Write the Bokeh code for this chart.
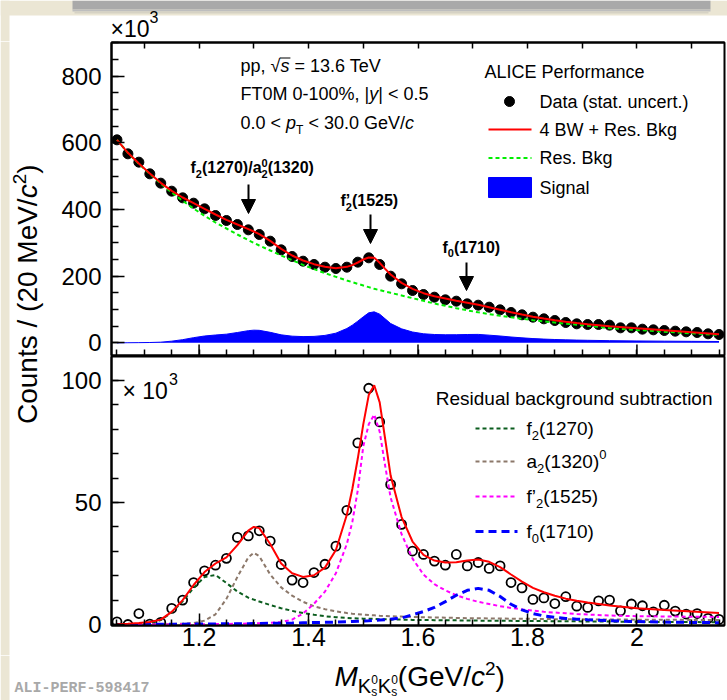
import math
from bokeh.plotting import figure
from bokeh.models import Range1d, LinearAxis, FixedTicker, Label, Arrow, NormalHead
from bokeh.layouts import column, row
from bokeh.embed import file_html
from bokeh.resources import INLINE

FONT = "Liberation Sans"

# ---------------- data ----------------
mass_bins = [1.05, 1.07, 1.09, 1.11, 1.13, 1.15, 1.17, 1.19, 1.21, 1.23,
             1.25, 1.27, 1.29, 1.31, 1.33, 1.35, 1.37, 1.39, 1.41, 1.43,
             1.45, 1.47, 1.49, 1.51, 1.53, 1.55, 1.57, 1.59, 1.61, 1.63,
             1.65, 1.67, 1.69, 1.71, 1.73, 1.75, 1.77, 1.79, 1.81, 1.83,
             1.85, 1.87, 1.89, 1.91, 1.93, 1.95, 1.97, 1.99, 2.01, 2.03,
             2.05, 2.07, 2.09, 2.11, 2.13, 2.15]
counts_data = [609, 567, 542, 507, 479, 455, 435, 419, 402, 382,
               367, 355, 339, 325, 305, 279, 259, 245, 235, 227,
               223, 227, 242, 255, 235, 200, 177, 157, 145, 137,
               129, 125, 117, 113, 107, 99, 91, 84, 77, 72,
               67, 61, 57, 55, 55, 53, 45, 45, 41, 39,
               37, 35, 33, 31, 27, 25]
residual_data = [1.1, 0.0, 4.5, 0.2, 0.9, 6.6, 10.0, 17.2, 22.0, 24.3,
                 27.1, 35.7, 36.3, 38.4, 34.2, 24.6, 18.2, 17.2, 21.3, 24.7,
                 32.1, 46.8, 74.4, 96.8, 83.0, 57.4, 41.0, 30.1, 28.7, 26.0,
                 24.3, 28.7, 24.0, 25.4, 23.0, 24.0, 17.2, 15.0, 10.3, 10.9,
                 8.6, 11.4, 7.5, 7.0, 9.7, 10.0, 5.6, 8.4, 7.7, 5.2,
                 7.9, 5.5, 4.3, 4.5, 2.5, 2.1]

curve_mass = [1.05, 1.07, 1.09, 1.11, 1.13, 1.15, 1.17, 1.19, 1.21, 1.23, 1.25, 1.27, 1.29,
              1.30,
              1.31, 1.33, 1.35, 1.37, 1.39, 1.41, 1.43, 1.45, 1.47,
              1.48, 1.49, 1.50, 1.51, 1.52, 1.53, 1.54, 1.55,
              1.57, 1.59, 1.61, 1.63, 1.65, 1.67, 1.69, 1.71, 1.73, 1.75, 1.77, 1.79, 1.81, 1.83,
              1.85, 1.87, 1.89, 1.91,
              1.95, 2.00, 2.05, 2.10, 2.15]
fit_total_top = [609, 570, 538, 508, 480, 456, 436, 419, 402, 385, 369, 355, 341,
                 334,
                 326, 306, 282, 262, 247, 236, 228, 224, 228,
                 233, 241, 250, 256, 255, 240, 222, 205,
                 180, 162, 149, 140, 133, 126, 120, 114, 107, 99.5, 92, 85, 78.5, 73,
                 68, 63.5, 59.5, 56,
                 50, 43.5, 37.5, 32, 26]
res_bkg_top = [609, 570, 537, 507, 478, 451, 426, 403, 381, 361, 343, 325, 308,
               300,
               292, 277, 262, 248, 234, 221, 209, 198, 187,
               182, 177, 172, 167, 162, 158, 154, 150,
               142, 134, 126, 118, 111, 104, 97.5, 91.5, 86, 81, 76.5, 72, 68, 64.5,
               61, 57.5, 54.5, 51.5,
               44, 38.5, 33.5, 28.5, 23.5]
signal_top = [0.0, 0.3, 0.6, 1.0, 2.0, 5.0, 9.5, 15.5, 20.5, 23.5, 26.0, 31.0, 36.5,
              38.0,
              37.5, 31.5, 24.0, 20.0, 18.7, 19.3, 22.3, 29.0, 43.0,
              53.0, 65.0, 78.0, 90.0, 93.0, 86.0, 72.0, 58.0,
              42.0, 32.5, 27.2, 25.0, 24.2, 24.3, 25.0, 25.3, 23.0, 20.5, 17.5, 15.0, 12.8, 11.2,
              10.0, 9.0, 8.2, 7.6,
              6.5, 5.6, 5.0, 4.5, 4.0]
fit_total_bot = [0.1, 0.3, 0.6, 1.0, 2.0, 5.2, 10.0, 16.2, 21.5, 25.0, 27.5, 32.5, 38.5,
                 40.0,
                 39.5, 33.0, 25.0, 21.0, 19.5, 20.2, 23.3, 30.5, 45.0,
                 55.5, 68.0, 82.0, 94.0, 98.0, 91.0, 76.0, 61.0,
                 44.0, 34.0, 28.5, 26.2, 25.4, 25.5, 26.2, 26.6, 25.7, 23.5, 20.5, 17.6, 15.0, 13.2,
                 11.8, 10.6, 9.7, 9.0,
                 7.8, 6.7, 5.9, 5.3, 4.7]
bw_f2_1270 = [0.0, 0.0, 0.1, 0.5, 1.8, 5.0, 9.5, 15.0, 19.5, 20.3, 17.0, 13.5, 11.0,
              10.2,
              9.4, 8.0, 6.7, 5.6, 4.7, 4.0, 3.4, 3.0, 2.7,
              2.6, 2.5, 2.4, 2.35, 2.3, 2.2, 2.15, 2.1,
              2.0, 1.9, 1.85, 1.8, 1.75, 1.7, 1.65, 1.6, 1.55, 1.5, 1.5, 1.45, 1.4, 1.4,
              1.35, 1.3, 1.3, 1.25,
              1.2, 1.1, 1.05, 1.0, 0.95]
bw_a2_1320 = [0.0, 0.0, 0.0, 0.05, 0.1, 0.2, 0.35, 0.6, 1.6, 4.2, 10.5, 19.5, 27.5,
              29.4,
              28.0, 20.5, 15.2, 11.8, 9.3, 7.5, 6.3, 5.4, 4.7,
              4.45, 4.25, 4.05, 3.9, 3.75, 3.6, 3.5, 3.4,
              3.25, 3.1, 3.0, 2.9, 2.8, 2.7, 2.6, 2.55, 2.5, 2.45, 2.4, 2.35, 2.3, 2.25,
              2.2, 2.2, 2.15, 2.1,
              2.05, 2.0, 1.95, 1.9, 1.85]
bw_f2p_1525 = [0.0, 0.0, 0.0, 0.0, 0.05, 0.05, 0.1, 0.1, 0.15, 0.2, 0.25, 0.3, 0.4,
               0.45,
               0.5, 0.7, 1.0, 2.0, 4.5, 8.5, 13.5, 21.0, 33.0,
               42.0, 55.0, 73.0, 82.0, 86.0, 79.0, 65.0, 52.0,
               37.0, 27.0, 20.5, 16.5, 14.0, 12.0, 10.5, 9.3, 8.4, 7.5, 6.8, 6.2, 5.7, 5.2,
               4.9, 4.6, 4.3, 4.1,
               3.7, 3.4, 3.3, 3.2, 3.1]
bw_f0_1710 = [0.0, 0.0, 0.05, 0.1, 0.1, 0.15, 0.15, 0.2, 0.2, 0.25, 0.3, 0.3, 0.35,
              0.4,
              0.4, 0.5, 0.55, 0.6, 0.7, 0.8, 0.9, 1.0, 1.15,
              1.25, 1.35, 1.45, 1.55, 1.7, 1.85, 2.0, 2.2,
              2.7, 4.0, 5.3, 7.0, 9.4, 12.0, 14.0, 14.8, 14.0, 11.5, 8.3, 6.0, 4.5, 3.5,
              2.9, 2.5, 2.2, 1.95,
              1.55, 1.2, 1.0, 0.85, 0.75]

x_major = [1.2, 1.4, 1.6, 1.8, 2.0]
x_major_labels = {1.2: "1.2", 1.4: "1.4", 1.6: "1.6", 1.8: "1.8", 2.0: "2"}
x_minor = [1.05, 1.1, 1.15, 1.2, 1.25, 1.3, 1.35, 1.4, 1.45, 1.5, 1.55, 1.6, 1.65, 1.7,
           1.75, 1.8, 1.85, 1.9, 1.95, 2.0, 2.05, 2.1, 2.15]
x_top_ticks = [1.1, 1.2, 1.3, 1.4, 1.5, 1.6, 1.7, 1.8, 1.9, 2.0, 2.1]
ytop_major = [0, 200, 400, 600, 800]
ytop_minor = [0, 50, 100, 150, 200, 250, 300, 350, 400, 450, 500, 550, 600, 650, 700,
              750, 800, 850, 900]
ybot_major = [0, 50, 100]
ybot_minor = [0, 10, 20, 30, 40, 50, 60, 70, 80, 90, 100, 110]

# ---------------- geometry (page pixels) ----------------
X0, X1 = 1.04, 2.16
FL, FR = 111, 724
TT, TB = 42, 355            # upper panel frame
BT, BB = 356, 625           # lower panel frame
YT0, YT1 = -38, 901
YB0 = -0.4
YB1 = YB0 + (BB - BT) / 2.441
XLAB_TOP = 655
BEIGE = "#ebe6d4"
MID = 0.35  # distance (in em) from the alphabetic baseline up to the text middle


def conv_top(px, py):
    return (X0 + (px - FL) * (X1 - X0) / (FR - FL),
            YT0 + (TB - py) * (YT1 - YT0) / (TB - TT))


def conv_bot(px, py):
    return (X0 + (px - FL) * (X1 - X0) / (FR - FL),
            YB0 + (BB - py) * (YB1 - YB0) / (BB - BT))


def ident(px, py):
    return (px, py)


# ---------------- text helpers ----------------
W_REG = {c: 556 for c in "0123456789"}
W_REG.update({' ': 278, ',': 278, '.': 278, '/': 278, '(': 333, ')': 333, '-': 333,
              '%': 889, '|': 260, '<': 584, '=': 584, '+': 584, '×': 584, '√': 549,
              "'": 191, '’': 222,
              'A': 667, 'B': 667, 'C': 722, 'D': 722, 'E': 667, 'F': 611, 'G': 778,
              'I': 278, 'K': 667, 'L': 556, 'M': 833, 'P': 667, 'R': 722, 'S': 667,
              'T': 611, 'V': 667, 'W': 944,
              'a': 556, 'b': 556, 'c': 500, 'd': 556, 'e': 556, 'f': 278, 'g': 556,
              'i': 222, 'k': 500, 'l': 222, 'm': 833, 'n': 556, 'o': 556, 'p': 556,
              'r': 333, 's': 500, 't': 278, 'u': 556, 'y': 500})
W_BOLD = dict(W_REG)
W_BOLD.update({'f': 333, "'": 238, '’': 278})


def tw(text, size, style="normal"):
    table = W_BOLD if "bold" in style else W_REG
    return sum(table.get(ch, 556) for ch in text) * size / 1000.0


def put(fig, conv, px, py_base, text, size, style="normal", color="black", align="left",
        font=FONT):
    """Place text whose alphabetic baseline is at page pixel py_base (anchored at its middle)."""
    x, y = conv(px, py_base - MID * size)
    fig.add_layout(Label(x=x, y=y, text=text, text_font=font,
                         text_font_size=f"{size}px", text_font_style=style,
                         text_color=color, text_align=align,
                         text_baseline="middle"))


def rich(fig, conv, px, py, pieces, color="black"):
    cx = px
    for pc in pieces:
        group = pc if isinstance(pc, list) else [pc]
        wmax = 0
        for (t, s, rise, st) in group:
            lead = len(t) - len(t.lstrip(' '))
            put(fig, conv, cx + tw(' ' * lead, s, st), py - rise, t.strip(' '), s, st, color)
            wmax = max(wmax, tw(t, s, st))
        cx += wmax
    return cx


def style_axis(ax, major_len, minor_len, label_size="24px", standoff=10):
    ax.axis_line_color = "black"
    ax.axis_line_width = 2
    ax.major_tick_in = major_len
    ax.major_tick_out = 0
    ax.minor_tick_in = minor_len
    ax.minor_tick_out = 0
    ax.major_tick_line_width = 1.5
    ax.minor_tick_line_width = 1.5
    ax.major_tick_line_color = "black"
    ax.minor_tick_line_color = "black"
    ax.major_label_text_font = FONT
    ax.major_label_text_color = "black"
    ax.major_label_text_font_size = label_size
    ax.major_label_standoff = standoff
    return ax


def base_fig(w, h, xr, yr, left, right, top, bottom, outline=True):
    p = figure(width=w, height=h, x_range=xr, y_range=yr,
               output_backend="svg", toolbar_location=None,
               x_axis_location=None, y_axis_location=None,
               min_border_left=left, min_border_right=right,
               min_border_top=top, min_border_bottom=bottom,
               background_fill_color="white", border_fill_color="white")
    p.grid.visible = False
    if outline:
        p.outline_line_color = "black"
        p.outline_line_width = 2
    else:
        p.outline_line_color = None
    return p


# ---------------- top strip (page decoration + x10^3) ----------------
strip = base_fig(727, 41, Range1d(0, 727), Range1d(41, 0), 0, 0, 0, 0, outline=False)
strip.quad(left=[0], right=[727], top=[0], bottom=[15], fill_color=BEIGE, line_color=None)
strip.quad(left=[0], right=[9], top=[0], bottom=[41], fill_color=BEIGE, line_color=None)
strip.quad(left=[72], right=[710], top=[0], bottom=[9], fill_color="#a9a9a9", line_color=None)
strip.quad(left=[72], right=[710], top=[9], bottom=[11], fill_color="#bebebe", line_color=None)
strip.quad(left=[74], right=[708], top=[11], bottom=[13], fill_color="#d6d2c4", line_color=None)
rich(strip, ident, 110, 37, [("×10", 23, 0, "normal")])
rich(strip, ident, 149, 22, [("3", 16, 0, "normal")])

# ---------------- top panel ----------------
top = base_fig(672, BT - 41, Range1d(X0, X1), Range1d(YT0, YT1), 56, 3, TT - 41, BT - TB)
top.add_layout(style_axis(LinearAxis(ticker=FixedTicker(ticks=ytop_major, minor_ticks=ytop_minor)),
                          13, 7), "left")
top.add_layout(style_axis(LinearAxis(ticker=FixedTicker(ticks=[], minor_ticks=x_minor)),
                          6, 6, standoff=0), "below")
top.add_layout(style_axis(LinearAxis(ticker=FixedTicker(ticks=[], minor_ticks=x_top_ticks)),
                          6, 6, standoff=0), "above")
tick_len_top = 11 * (YT1 - YT0) / (TB - TT)
top.segment(x0=x_major, y0=[YT0] * len(x_major), x1=x_major,
            y1=[YT0 + tick_len_top] * len(x_major), line_color="black", line_width=1.5)

top.varea(x=curve_mass, y1=0, y2=signal_top, fill_color="#0000ff")
top.line(curve_mass, signal_top, line_color="#0000ff", line_width=1)
top.scatter(mass_bins, counts_data, size=10, fill_color="black", line_color="black")
top.line(curve_mass, res_bkg_top, line_color="#00ee00", line_width=2, line_dash="4 3")
top.line(curve_mass, fit_total_top, line_color="#ff0000", line_width=2)

# info text
rich(top, conv_top, 240, 71.5, [("pp, ", 18, 0, "normal"), ("√", 18, 0, "normal"),
                                ("s", 18, 0, "italic"), (" = 13.6 TeV", 18, 0, "normal")])
ox0 = 240 + tw("pp, √", 18) - 0.5
ox1 = 240 + tw("pp, √s", 18) + 1
ol_a = conv_top(ox0, 57.5)
ol_b = conv_top(ox1, 57.5)
top.segment(x0=[ol_a[0]], y0=[ol_a[1]], x1=[ol_b[0]], y1=[ol_b[1]], line_color="black", line_width=1.2)
rich(top, conv_top, 240, 99.5, [("FT0M 0-100%, |", 18, 0, "normal"), ("y", 18, 0, "italic"),
                                ("| < 0.5", 18, 0, "normal")])
rich(top, conv_top, 240, 128.5, [("0.0 < ", 18, 0, "normal"), ("p", 18, 0, "italic"),
                                 ("T", 12, -5, "normal"), (" < 30.0 GeV/", 18, 0, "normal"),
                                 ("c", 18, 0, "italic")])

# resonance annotations
B = "bold"
rich(top, conv_top, 190, 173, [("f", 16, 0, B), ("2", 11, -4, B), ("(1270)/a", 16, 0, B),
                               [("0", 11, 7, B), ("2", 11, -4, B)], ("(1320)", 16, 0, B)])
rich(top, conv_top, 340, 206, [("f", 16, 0, B), [("’", 16, 0, B), ("2", 11, -4, B)],
                               ("(1525)", 16, 0, B)])
rich(top, conv_top, 442, 252.5, [("f", 16, 0, B), ("0", 11, -4, B), ("(1710)", 16, 0, B)])
for (ax_px, ay0, ay1) in [(248, 184, 213), (370, 214, 243), (466, 262, 290)]:
    xs, ys = conv_top(ax_px, ay0)
    xe, ye = conv_top(ax_px, ay1)
    top.add_layout(Arrow(end=NormalHead(size=14, fill_color="black", line_color="black", line_width=1),
                         x_start=xs, y_start=ys, x_end=xe, y_end=ye,
                         line_color="black", line_width=2))

# legend (top)
put(top, conv_top, 484, 77.5, "ALICE Performance", 18)
mx, my = conv_top(509, 101)
top.scatter([mx], [my], size=10, fill_color="black", line_color="black")
put(top, conv_top, 539, 107.5, "Data (stat. uncert.)", 18)
la, lb = conv_top(488, 129), conv_top(531, 129)
top.line([la[0], lb[0]], [la[1], lb[1]], line_color="#ff0000", line_width=2)
put(top, conv_top, 539, 135.5, "4 BW + Res. Bkg", 18)
la, lb = conv_top(488, 157.5), conv_top(531, 157.5)
top.line([la[0], lb[0]], [la[1], lb[1]], line_color="#00ee00", line_width=2, line_dash="4 3")
put(top, conv_top, 539, 164, "Res. Bkg", 18)
qa, qb = conv_top(488, 177), conv_top(531, 197)
top.quad(left=[qa[0]], right=[qb[0]], top=[qa[1]], bottom=[qb[1]], fill_color="#0000ff", line_color="#0000ff")
put(top, conv_top, 539, 193.5, "Signal", 18)

# ---------------- bottom panel ----------------
bot = base_fig(672, XLAB_TOP - BT, Range1d(X0, X1), Range1d(YB0, YB1), 56, 3, 0, XLAB_TOP - BB)
bot.add_layout(style_axis(LinearAxis(ticker=FixedTicker(ticks=ybot_major, minor_ticks=ybot_minor)),
                          13, 7), "left")
xax = style_axis(LinearAxis(ticker=FixedTicker(ticks=x_major, minor_ticks=x_minor)), 12, 6,
                 label_size="25px", standoff=2)
xax.major_label_overrides = x_major_labels
bot.add_layout(xax, "below")

bot.scatter(mass_bins, residual_data, size=9, fill_alpha=0, line_color="black", line_width=1.8)
C_F2, C_A2, C_F2P, C_F0 = "#0b5d1e", "#8c786a", "#ff00ff", "#0000ff"
bot.line(curve_mass, bw_f2_1270, line_color=C_F2, line_width=2, line_dash="4 3")
bot.line(curve_mass, bw_a2_1320, line_color=C_A2, line_width=2, line_dash="4 3")
bot.line(curve_mass, bw_f2p_1525, line_color=C_F2P, line_width=2, line_dash="4 3")
bot.line(curve_mass, bw_f0_1710, line_color=C_F0, line_width=3, line_dash="8 5")
bot.line(curve_mass, fit_total_bot, line_color="#ff0000", line_width=2)

rich(bot, conv_bot, 122, 399, [("× 10", 23, 0, "normal")])
rich(bot, conv_bot, 122 + tw("× 10", 23) + 1, 384, [("3", 16, 0, "normal")])

put(bot, conv_bot, 712, 404.5, "Residual background subtraction", 19, align="right")
leg_items = [(C_F2, 2, "4 3", 428, [("f", 19, 0, "normal"), ("2", 13, -5, "normal"), ("(1270)", 19, 0, "normal")]),
             (C_A2, 2, "4 3", 461, [("a", 19, 0, "normal"), ("2", 13, -5, "normal"), ("(1320)", 19, 0, "normal"),
                                     ("0", 13, 9, "normal")]),
             (C_F2P, 2, "4 3", 496, [("f", 19, 0, "normal"), ("’", 19, 0, "normal"), ("2", 13, -5, "normal"),
                                      ("(1525)", 19, 0, "normal")]),
             (C_F0, 3, "8 5", 531, [("f", 19, 0, "normal"), ("0", 13, -5, "normal"), ("(1710)", 19, 0, "normal")])]
for (col, lw, dash, ly, pieces) in leg_items:
    la, lb = conv_bot(475, ly), conv_bot(517, ly)
    bot.line([la[0], lb[0]], [la[1], lb[1]], line_color=col, line_width=lw, line_dash=dash)
    rich(bot, conv_bot, 526, ly + 6.8, pieces)

# ---------------- y-axis title (left column) ----------------
ylab = base_fig(55, XLAB_TOP - 41, Range1d(0, 55), Range1d(XLAB_TOP, 41), 0, 0, 0, 0, outline=False)
ylab.quad(left=[0], right=[9], top=[41], bottom=[XLAB_TOP], fill_color=BEIGE, line_color=None)
cy = 423.5
for (t, s, rise, st) in [("Counts / (20 MeV/", 28, 0, "normal"), ("c", 28, 0, "italic"),
                         ("2", 19, 11, "normal"), (")", 28, 0, "normal")]:
    ylab.add_layout(Label(x=36.5 - rise - MID * s, y=cy, text=t, text_font=FONT,
                          text_font_size=f"{s}px", text_font_style=st, text_color="black",
                          text_align="left", text_baseline="middle", angle=math.pi / 2))
    cy -= tw(t, s, st)

# ---------------- x-axis title strip ----------------
xlab = base_fig(727, 700 - XLAB_TOP, Range1d(0, 727), Range1d(700, XLAB_TOP), 0, 0, 0, 0, outline=False)
xlab.quad(left=[0], right=[9], top=[XLAB_TOP], bottom=[700], fill_color=BEIGE, line_color=None)
rich(xlab, ident, 334, 686, [("M", 28, 0, "italic"), ("K", 20, -6, "normal"),
                             [("0", 12, 3, "normal"), ("s", 12, -9.5, "normal")],
                             ("K", 20, -6, "normal"),
                             [("0", 12, 3, "normal"), ("s", 12, -9.5, "normal")],
                             ("(GeV/", 28, 0, "normal"), ("c", 28, 0, "italic"),
                             ("2", 19, 11, "normal"), (")", 28, 0, "normal")])
put(xlab, ident, 14, 693.5, "ALI-PERF-598417", 15, "bold", color="#a8a8a8", font="Liberation Mono")

layout = column(strip, row(ylab, column(top, bot)), xlab)
open("out.html", "w").write(file_html(layout, INLINE, "K0sK0s invariant mass"))
